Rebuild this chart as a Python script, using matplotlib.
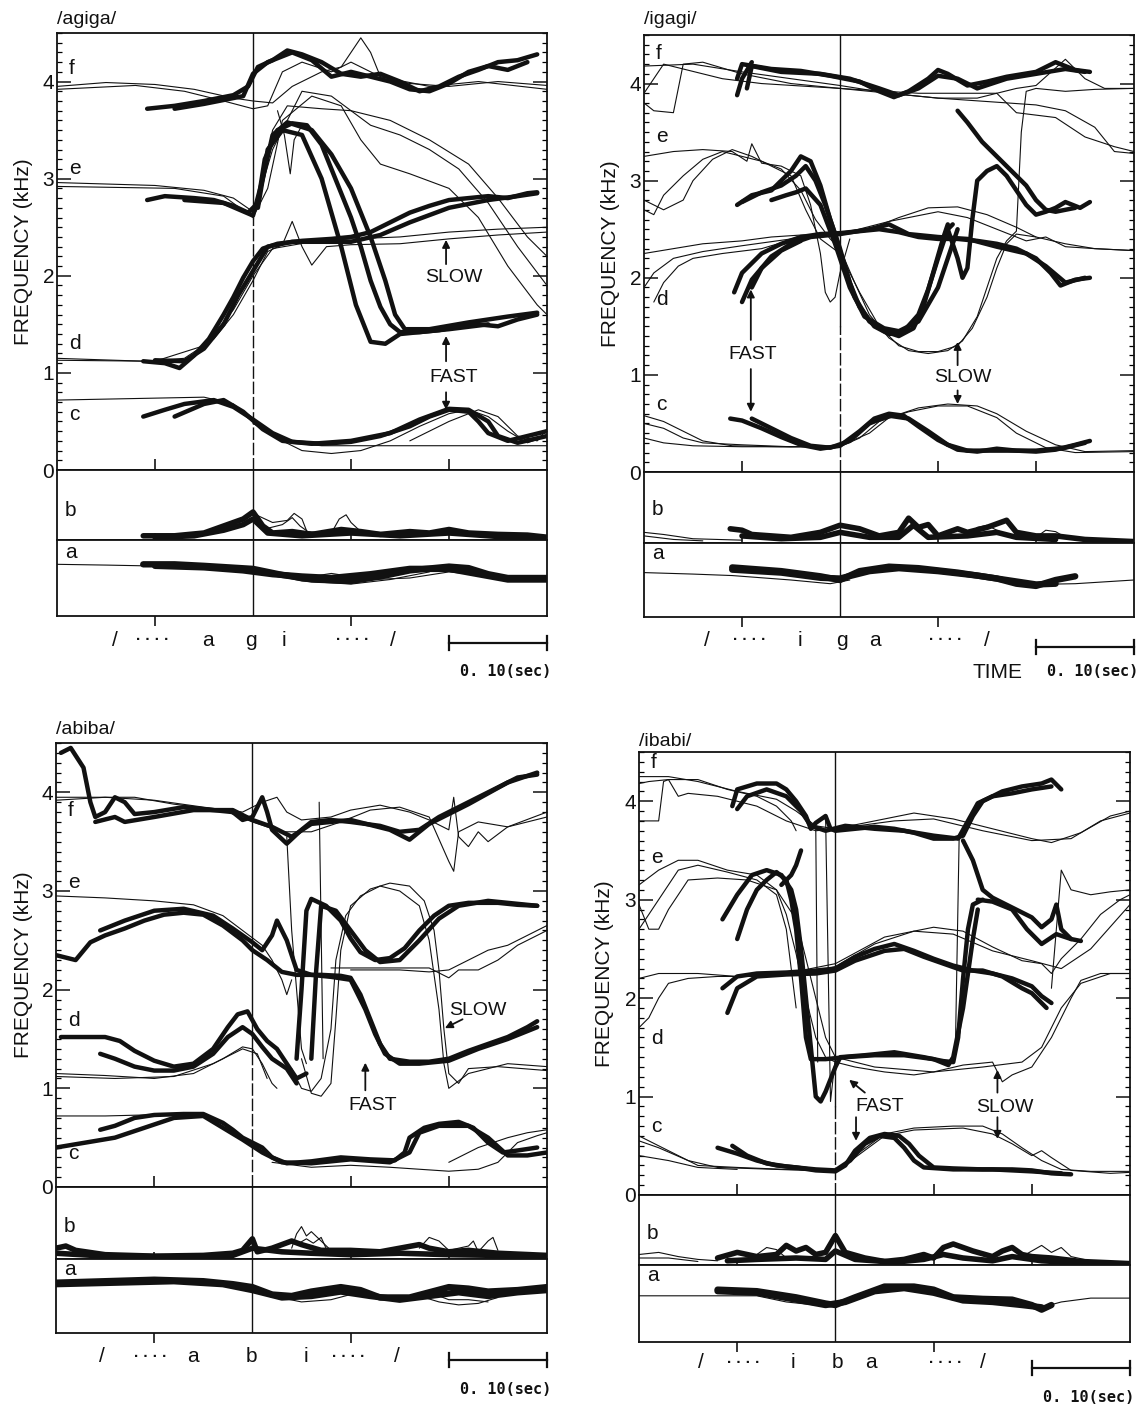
#!/usr/bin/env python3
"""Formant trajectories of /agiga/, /igagi/, /abiba/, /ibabi/ (fast vs slow rate)."""
import matplotlib

matplotlib.use("Agg")
import matplotlib.pyplot as plt
import matplotlib.transforms as mtransforms
from matplotlib.lines import Line2D
from matplotlib.ticker import FixedLocator, MultipleLocator, NullLocator

W, H, DPI = 1139, 1406, 100
INK = "#111111"
plt.rcParams["font.family"] = ["Liberation Sans", "DejaVu Sans"]

# ---------- data: traces as (time s, frequency kHz) ----------
# /agiga/
AGIGA_FAST = [
    [(0.092, 3.72), (0.12, 3.75), (0.15, 3.80), (0.18, 3.86), (0.195, 3.95), (0.205, 4.15), (0.22, 4.22),
     (0.235, 4.32), (0.25, 4.28), (0.27, 4.20), (0.29, 4.08), (0.31, 4.05), (0.33, 4.08), (0.35, 4.00),
     (0.37, 3.90), (0.39, 3.95), (0.41, 4.05), (0.43, 4.12), (0.45, 4.20), (0.47, 4.22), (0.49, 4.28)],
    [(0.12, 3.72), (0.15, 3.77), (0.19, 3.85), (0.20, 4.08), (0.215, 4.20), (0.24, 4.30), (0.26, 4.22),
     (0.28, 4.05), (0.30, 4.10), (0.32, 4.05), (0.34, 4.00), (0.36, 3.92), (0.38, 3.90), (0.40, 3.98),
     (0.42, 4.10), (0.44, 4.16), (0.46, 4.12), (0.48, 4.20)],
    [(0.092, 2.78), (0.11, 2.82), (0.14, 2.80), (0.16, 2.78), (0.18, 2.72), (0.195, 2.65), (0.205, 2.75),
     (0.212, 3.20), (0.225, 3.50), (0.24, 3.57), (0.255, 3.55), (0.27, 3.35), (0.28, 3.10), (0.29, 2.85),
     (0.30, 2.60), (0.31, 2.30), (0.32, 1.95), (0.33, 1.68), (0.34, 1.50), (0.35, 1.42), (0.37, 1.42),
     (0.39, 1.44), (0.41, 1.48), (0.43, 1.50), (0.45, 1.48), (0.47, 1.55), (0.49, 1.60)],
    [(0.13, 2.78), (0.17, 2.75), (0.20, 2.62), (0.21, 3.00), (0.22, 3.45), (0.235, 3.58), (0.26, 3.50),
     (0.28, 3.25), (0.30, 2.90), (0.32, 2.40), (0.335, 1.95), (0.345, 1.60), (0.355, 1.45), (0.38, 1.45),
     (0.42, 1.52), (0.46, 1.58), (0.49, 1.62)],
    [(0.205, 2.70), (0.215, 3.30), (0.23, 3.50), (0.25, 3.45), (0.27, 3.00), (0.29, 2.30), (0.305, 1.70),
     (0.32, 1.32), (0.335, 1.30), (0.35, 1.40), (0.40, 1.45), (0.44, 1.50)],
    [(0.088, 1.12), (0.11, 1.10), (0.125, 1.05), (0.14, 1.18), (0.155, 1.35), (0.17, 1.60), (0.18, 1.78),
     (0.19, 1.98), (0.20, 2.15), (0.21, 2.28), (0.225, 2.33), (0.25, 2.36), (0.28, 2.38), (0.30, 2.40),
     (0.32, 2.45), (0.34, 2.55), (0.36, 2.65), (0.38, 2.72), (0.40, 2.78), (0.42, 2.80), (0.44, 2.82),
     (0.46, 2.80), (0.48, 2.85), (0.49, 2.86)],
    [(0.10, 1.13), (0.13, 1.12), (0.15, 1.25), (0.17, 1.50), (0.185, 1.80), (0.20, 2.05), (0.215, 2.30),
     (0.24, 2.35), (0.27, 2.35), (0.30, 2.35), (0.33, 2.42), (0.36, 2.55), (0.40, 2.70), (0.44, 2.78),
     (0.47, 2.82), (0.49, 2.85)],
    [(0.088, 0.55), (0.11, 0.62), (0.13, 0.68), (0.16, 0.72), (0.18, 0.65), (0.20, 0.52), (0.22, 0.38),
     (0.24, 0.29), (0.27, 0.27), (0.30, 0.29), (0.33, 0.35), (0.36, 0.45), (0.38, 0.55), (0.40, 0.62),
     (0.42, 0.60), (0.43, 0.50), (0.44, 0.38), (0.46, 0.30), (0.48, 0.35), (0.50, 0.40)],
    [(0.12, 0.55), (0.15, 0.68), (0.17, 0.72), (0.19, 0.60), (0.21, 0.42), (0.23, 0.30), (0.26, 0.27),
     (0.30, 0.30), (0.34, 0.38), (0.37, 0.52), (0.40, 0.63), (0.42, 0.62), (0.44, 0.50), (0.45, 0.35),
     (0.47, 0.28), (0.50, 0.35)],
]
AGIGA_SLOW = [
    [(0.0, 3.95), (0.05, 3.99), (0.10, 3.97), (0.14, 3.92), (0.18, 3.83), (0.20, 3.80), (0.22, 3.78),
     (0.24, 3.95), (0.27, 4.10), (0.29, 4.15), (0.30, 4.30), (0.31, 4.45), (0.32, 4.30), (0.33, 4.05),
     (0.36, 3.98), (0.40, 3.95), (0.45, 4.00), (0.50, 3.96)],
    [(0.0, 3.92), (0.08, 3.96), (0.13, 3.90), (0.17, 3.80), (0.20, 3.72), (0.215, 3.75), (0.23, 4.10),
     (0.25, 4.20), (0.28, 4.10), (0.30, 4.20), (0.33, 4.05), (0.38, 3.95), (0.43, 4.00), (0.50, 3.92)],
    [(0.0, 2.96), (0.10, 2.93), (0.15, 2.88), (0.18, 2.80), (0.20, 2.66), (0.21, 3.00), (0.22, 3.50),
     (0.235, 3.75), (0.27, 3.72), (0.30, 3.70), (0.32, 3.55), (0.35, 3.45), (0.38, 3.30), (0.41, 3.10),
     (0.44, 2.75), (0.47, 2.30), (0.50, 1.90)],
    [(0.0, 2.92), (0.12, 2.90), (0.17, 2.82), (0.20, 2.60), (0.215, 2.90), (0.23, 3.60), (0.26, 3.85),
     (0.29, 3.75), (0.31, 3.40), (0.33, 3.15), (0.36, 3.05), (0.40, 2.90), (0.43, 2.60), (0.46, 2.10),
     (0.49, 1.70), (0.50, 1.60)],
    [(0.20, 2.62), (0.22, 3.30), (0.25, 3.90), (0.28, 3.85), (0.30, 3.70), (0.34, 3.60), (0.38, 3.40),
     (0.42, 3.15), (0.45, 2.80), (0.48, 2.40), (0.50, 2.20)],
    [(0.225, 3.70), (0.232, 3.45), (0.238, 3.05), (0.242, 3.40), (0.25, 3.55)],
    [(0.0, 1.15), (0.09, 1.12), (0.13, 1.15), (0.16, 1.35), (0.18, 1.60), (0.20, 1.95), (0.215, 2.25),
     (0.23, 2.32), (0.24, 2.56), (0.25, 2.30), (0.26, 2.11), (0.275, 2.30), (0.30, 2.32), (0.35, 2.33),
     (0.40, 2.38), (0.45, 2.42), (0.50, 2.45)],
    [(0.0, 1.13), (0.10, 1.12), (0.15, 1.28), (0.18, 1.65), (0.20, 2.00), (0.22, 2.28), (0.26, 2.35),
     (0.30, 2.38), (0.35, 2.40), (0.40, 2.45), (0.45, 2.48), (0.50, 2.50)],
    [(0.0, 0.72), (0.05, 0.73), (0.10, 0.74), (0.15, 0.75), (0.18, 0.68), (0.20, 0.52), (0.22, 0.38),
     (0.24, 0.28), (0.27, 0.25), (0.30, 0.25), (0.40, 0.25), (0.50, 0.25)],
    [(0.20, 0.48), (0.23, 0.30), (0.25, 0.20), (0.28, 0.17), (0.31, 0.20), (0.34, 0.30), (0.37, 0.45),
     (0.40, 0.58), (0.42, 0.62), (0.44, 0.55), (0.46, 0.40), (0.48, 0.28), (0.50, 0.35)],
    [(0.36, 0.30), (0.40, 0.50), (0.43, 0.62), (0.45, 0.55), (0.47, 0.35), (0.49, 0.30), (0.50, 0.42)],
]
AGIGA_B_FAST = [
    [(0.088, 0.06), (0.12, 0.06), (0.15, 0.10), (0.17, 0.20), (0.19, 0.30), (0.20, 0.40), (0.21, 0.20),
     (0.22, 0.10), (0.24, 0.12), (0.26, 0.08), (0.29, 0.15), (0.31, 0.12), (0.33, 0.08), (0.36, 0.12),
     (0.38, 0.10), (0.40, 0.15), (0.42, 0.10), (0.45, 0.08), (0.48, 0.07), (0.50, 0.04)],
    [(0.10, 0.04), (0.14, 0.06), (0.17, 0.14), (0.19, 0.22), (0.20, 0.30), (0.215, 0.10), (0.25, 0.06),
     (0.30, 0.10), (0.35, 0.06), (0.40, 0.10), (0.45, 0.05), (0.50, 0.03)],
]
AGIGA_B_SLOW = [
    [(0.20, 0.38), (0.22, 0.25), (0.235, 0.28), (0.242, 0.38), (0.25, 0.30), (0.255, 0.12), (0.28, 0.10),
     (0.288, 0.30), (0.295, 0.36), (0.30, 0.25), (0.31, 0.12), (0.35, 0.08)],
    [(0.21, 0.15), (0.23, 0.22), (0.24, 0.32), (0.248, 0.20), (0.26, 0.08)],
]
AGIGA_A_FAST = [
    [(0.088, 0.68), (0.12, 0.68), (0.15, 0.66), (0.20, 0.62), (0.23, 0.54), (0.26, 0.48), (0.30, 0.46),
     (0.33, 0.52), (0.36, 0.60), (0.40, 0.65), (0.42, 0.63), (0.44, 0.55), (0.46, 0.50), (0.50, 0.50)],
    [(0.10, 0.66), (0.15, 0.64), (0.19, 0.60), (0.22, 0.55), (0.25, 0.52), (0.28, 0.50), (0.32, 0.55),
     (0.36, 0.62), (0.40, 0.62), (0.43, 0.55), (0.46, 0.48), (0.50, 0.48)],
]
AGIGA_A_SLOW = [
    [(0.0, 0.68), (0.05, 0.67), (0.09, 0.66), (0.15, 0.66), (0.20, 0.60), (0.25, 0.46), (0.30, 0.42),
     (0.34, 0.48), (0.38, 0.58)],
    [(0.26, 0.52), (0.28, 0.56), (0.32, 0.48), (0.36, 0.50), (0.40, 0.58), (0.45, 0.52), (0.50, 0.46)],
]

# /igagi/
IGAGI_FAST = [
    [(0.095, 4.05), (0.10, 4.20), (0.13, 4.15), (0.16, 4.13), (0.19, 4.08), (0.22, 4.02), (0.24, 3.92),
     (0.255, 3.86), (0.27, 3.92), (0.29, 4.05), (0.30, 4.14), (0.31, 4.10), (0.33, 3.98), (0.35, 4.02),
     (0.37, 4.07), (0.40, 4.12), (0.42, 4.22), (0.44, 4.14), (0.455, 4.12)],
    [(0.105, 3.95), (0.11, 4.18), (0.14, 4.12), (0.18, 4.10), (0.21, 4.05), (0.24, 3.95), (0.26, 3.88),
     (0.28, 3.95), (0.30, 4.08), (0.32, 4.05), (0.34, 3.95), (0.37, 4.05), (0.40, 4.10), (0.43, 4.15),
     (0.45, 4.12)],
    [(0.095, 3.88), (0.10, 4.05), (0.11, 4.22)],
    [(0.095, 2.75), (0.11, 2.85), (0.13, 2.90), (0.15, 3.10), (0.16, 3.25), (0.17, 3.20), (0.18, 2.95),
     (0.19, 2.60), (0.20, 2.30), (0.21, 1.95), (0.22, 1.70), (0.235, 1.50), (0.25, 1.42), (0.265, 1.45),
     (0.28, 1.62), (0.29, 1.88), (0.30, 2.20), (0.31, 2.50), (0.315, 2.55)],
    [(0.10, 2.78), (0.12, 2.88), (0.14, 2.95), (0.155, 3.05), (0.165, 3.15), (0.175, 3.00), (0.185, 2.75),
     (0.195, 2.45), (0.205, 2.10), (0.215, 1.80), (0.23, 1.55), (0.245, 1.45), (0.26, 1.40), (0.275, 1.48),
     (0.285, 1.70), (0.295, 2.05), (0.305, 2.40), (0.31, 2.55)],
    [(0.13, 2.80), (0.145, 2.85), (0.155, 2.88), (0.165, 2.92), (0.18, 2.75), (0.195, 2.35), (0.21, 1.90),
     (0.225, 1.60), (0.245, 1.48), (0.26, 1.45), (0.28, 1.55), (0.30, 1.90), (0.315, 2.35), (0.32, 2.50)],
    [(0.31, 2.50), (0.32, 2.20), (0.325, 2.00), (0.33, 2.10), (0.335, 2.60), (0.34, 3.00), (0.35, 3.10),
     (0.36, 3.15), (0.37, 3.05), (0.38, 2.90), (0.39, 2.75), (0.40, 2.65), (0.41, 2.68), (0.42, 2.72),
     (0.43, 2.78), (0.445, 2.72), (0.455, 2.78)],
    [(0.32, 3.72), (0.33, 3.60), (0.345, 3.40), (0.36, 3.25), (0.375, 3.10), (0.39, 2.95), (0.40, 2.80),
     (0.41, 2.70), (0.42, 2.68), (0.44, 2.72)],
    [(0.092, 1.85), (0.10, 2.05), (0.12, 2.25), (0.14, 2.35), (0.16, 2.42), (0.18, 2.45), (0.20, 2.46),
     (0.22, 2.48), (0.24, 2.50), (0.26, 2.47), (0.28, 2.42), (0.30, 2.40), (0.32, 2.40), (0.34, 2.38),
     (0.36, 2.35), (0.38, 2.30), (0.40, 2.20), (0.415, 2.05), (0.425, 1.92), (0.44, 1.98), (0.455, 2.00)],
    [(0.10, 1.75), (0.11, 1.98), (0.13, 2.22), (0.15, 2.35), (0.17, 2.42), (0.20, 2.45), (0.23, 2.50),
     (0.25, 2.55), (0.27, 2.45), (0.30, 2.42), (0.33, 2.40), (0.36, 2.32), (0.39, 2.25), (0.41, 2.12),
     (0.43, 1.95), (0.45, 2.00)],
    [(0.11, 1.90), (0.12, 2.10), (0.14, 2.28), (0.16, 2.38)],
    [(0.088, 0.55), (0.10, 0.53), (0.12, 0.45), (0.14, 0.36), (0.16, 0.28), (0.18, 0.24), (0.20, 0.27),
     (0.22, 0.42), (0.235, 0.55), (0.25, 0.60), (0.265, 0.58), (0.28, 0.47), (0.30, 0.33), (0.32, 0.23),
     (0.34, 0.21), (0.36, 0.24), (0.38, 0.22), (0.40, 0.21), (0.42, 0.23), (0.44, 0.28), (0.455, 0.32)],
    [(0.11, 0.55), (0.13, 0.45), (0.15, 0.35), (0.17, 0.27), (0.19, 0.25), (0.21, 0.32), (0.23, 0.50),
     (0.25, 0.58), (0.27, 0.55), (0.29, 0.42), (0.31, 0.28), (0.33, 0.22), (0.36, 0.22), (0.40, 0.22),
     (0.43, 0.25), (0.45, 0.30)],
]
IGAGI_SLOW = [
    [(0.0, 4.18), (0.05, 4.20), (0.10, 4.12), (0.15, 4.05), (0.20, 3.98), (0.25, 3.90), (0.30, 3.85),
     (0.34, 3.85), (0.38, 3.95), (0.40, 3.98), (0.43, 4.25), (0.45, 4.05), (0.47, 3.95), (0.50, 3.95)],
    [(0.0, 3.80), (0.01, 3.72), (0.03, 3.70), (0.04, 4.20), (0.06, 4.22), (0.10, 4.10), (0.15, 4.00),
     (0.20, 3.95), (0.30, 3.85), (0.40, 3.78), (0.43, 3.72), (0.46, 3.55), (0.48, 3.30), (0.50, 3.28)],
    [(0.0, 3.90), (0.02, 4.20), (0.04, 4.15), (0.08, 4.05), (0.12, 4.00), (0.20, 3.95), (0.28, 3.90),
     (0.34, 3.90), (0.36, 3.90), (0.38, 3.70), (0.42, 3.65), (0.45, 3.45), (0.48, 3.35), (0.50, 3.30)],
    [(0.0, 3.25), (0.03, 3.30), (0.06, 3.32), (0.09, 3.30), (0.105, 3.20), (0.11, 3.38), (0.12, 3.18),
     (0.14, 3.15), (0.16, 3.05), (0.17, 2.75), (0.18, 2.25), (0.185, 1.85), (0.19, 1.75), (0.195, 1.80),
     (0.20, 2.05), (0.21, 2.40)],
    [(0.0, 2.70), (0.01, 2.65), (0.02, 2.85), (0.04, 3.05), (0.06, 3.22), (0.08, 3.30), (0.10, 3.25),
     (0.12, 3.20), (0.14, 3.12), (0.16, 2.90), (0.175, 2.60), (0.19, 2.40), (0.20, 2.30), (0.215, 1.95),
     (0.23, 1.62), (0.25, 1.38), (0.27, 1.25), (0.29, 1.22), (0.31, 1.25), (0.325, 1.35), (0.34, 1.60),
     (0.35, 1.90), (0.36, 2.20), (0.37, 2.38), (0.38, 2.48), (0.385, 3.50), (0.39, 3.92), (0.40, 3.95),
     (0.43, 3.92), (0.46, 3.94), (0.50, 3.95)],
    [(0.0, 2.80), (0.02, 2.70), (0.04, 2.80), (0.05, 3.00), (0.07, 3.22), (0.09, 3.32), (0.11, 3.25),
     (0.13, 3.15), (0.15, 3.05), (0.165, 2.70), (0.18, 2.40), (0.20, 2.25), (0.22, 1.85), (0.24, 1.50),
     (0.26, 1.30), (0.28, 1.24), (0.30, 1.24), (0.32, 1.30), (0.335, 1.48), (0.35, 1.80), (0.36, 2.10),
     (0.37, 2.35), (0.38, 2.45), (0.40, 2.42)],
    [(0.0, 2.25), (0.03, 2.30), (0.06, 2.35), (0.10, 2.38), (0.13, 2.42), (0.16, 2.44), (0.20, 2.45),
     (0.23, 2.50), (0.26, 2.62), (0.29, 2.72), (0.32, 2.73), (0.35, 2.65), (0.38, 2.52), (0.40, 2.42),
     (0.43, 2.35), (0.46, 2.30), (0.50, 2.28)],
    [(0.0, 1.90), (0.01, 2.05), (0.03, 2.20), (0.06, 2.27), (0.10, 2.33), (0.15, 2.40), (0.20, 2.45),
     (0.25, 2.58), (0.30, 2.68), (0.33, 2.62), (0.36, 2.50), (0.39, 2.38), (0.41, 2.42), (0.43, 2.32),
     (0.46, 2.30), (0.50, 2.28)],
    [(0.01, 1.75), (0.02, 1.95), (0.035, 2.12), (0.05, 2.20), (0.08, 2.25), (0.12, 2.30), (0.16, 2.42)],
    [(0.0, 0.50), (0.02, 0.45), (0.04, 0.35), (0.06, 0.30), (0.10, 0.28), (0.15, 0.26), (0.20, 0.27),
     (0.23, 0.40), (0.25, 0.56), (0.28, 0.66), (0.31, 0.70), (0.34, 0.68), (0.36, 0.60), (0.39, 0.42),
     (0.42, 0.28), (0.45, 0.21), (0.50, 0.22)],
    [(0.0, 0.58), (0.02, 0.52), (0.04, 0.42), (0.06, 0.32), (0.09, 0.27), (0.14, 0.26), (0.20, 0.26),
     (0.22, 0.35), (0.24, 0.52), (0.27, 0.62), (0.30, 0.68), (0.33, 0.68), (0.36, 0.56), (0.38, 0.40),
     (0.41, 0.25), (0.44, 0.20), (0.50, 0.21)],
    [(0.0, 0.35), (0.02, 0.30), (0.05, 0.27), (0.10, 0.26), (0.15, 0.26), (0.20, 0.26)],
]
IGAGI_B_FAST = [
    [(0.088, 0.20), (0.10, 0.18), (0.11, 0.12), (0.13, 0.10), (0.15, 0.08), (0.18, 0.15), (0.20, 0.25),
     (0.22, 0.20), (0.24, 0.10), (0.26, 0.15), (0.27, 0.35), (0.28, 0.22), (0.29, 0.26), (0.30, 0.10),
     (0.32, 0.20), (0.33, 0.15), (0.35, 0.22), (0.37, 0.32), (0.38, 0.15), (0.40, 0.10), (0.42, 0.10),
     (0.45, 0.05), (0.50, 0.02)],
    [(0.10, 0.10), (0.14, 0.06), (0.18, 0.08), (0.20, 0.15), (0.23, 0.08), (0.26, 0.08), (0.275, 0.25),
     (0.29, 0.08), (0.33, 0.10), (0.36, 0.15), (0.38, 0.08), (0.42, 0.05)],
]
IGAGI_B_SLOW = [
    [(0.0, 0.15), (0.02, 0.12), (0.05, 0.06), (0.10, 0.04)],
    [(0.0, 0.10), (0.03, 0.05), (0.06, 0.03)],
    [(0.33, 0.10), (0.34, 0.22), (0.35, 0.25), (0.36, 0.18), (0.37, 0.12)],
    [(0.40, 0.08), (0.41, 0.18), (0.42, 0.16), (0.43, 0.08)],
]
IGAGI_A_FAST = [
    [(0.09, 0.67), (0.14, 0.62), (0.18, 0.55), (0.20, 0.50), (0.22, 0.62), (0.25, 0.68), (0.28, 0.66),
     (0.32, 0.60), (0.36, 0.52), (0.38, 0.45), (0.40, 0.42), (0.42, 0.50), (0.44, 0.55)],
    [(0.09, 0.64), (0.14, 0.60), (0.18, 0.53), (0.20, 0.52), (0.23, 0.62), (0.26, 0.66), (0.30, 0.62),
     (0.34, 0.56), (0.37, 0.50), (0.40, 0.44), (0.42, 0.45)],
]
IGAGI_A_SLOW = [
    [(0.0, 0.60), (0.05, 0.58), (0.09, 0.56), (0.15, 0.50), (0.19, 0.45), (0.21, 0.50)],
    [(0.40, 0.44), (0.44, 0.45), (0.50, 0.50)],
]

# /abiba/
ABIBA_FAST = [
    [(0.005, 4.40), (0.015, 4.45), (0.028, 4.25), (0.035, 3.90), (0.04, 3.75), (0.05, 3.80), (0.06, 3.95),
     (0.07, 3.90), (0.08, 3.78), (0.10, 3.80), (0.13, 3.85), (0.16, 3.82), (0.18, 3.80), (0.19, 3.72),
     (0.20, 3.75), (0.21, 3.95), (0.215, 3.80), (0.22, 3.62), (0.235, 3.48), (0.25, 3.62), (0.26, 3.70),
     (0.28, 3.72), (0.30, 3.70), (0.33, 3.66), (0.35, 3.60), (0.37, 3.62), (0.39, 3.75), (0.41, 3.85),
     (0.43, 3.95), (0.45, 4.05), (0.47, 4.15), (0.49, 4.18)],
    [(0.04, 3.70), (0.06, 3.75), (0.07, 3.70), (0.10, 3.75), (0.14, 3.82), (0.18, 3.82), (0.20, 3.72),
     (0.22, 3.65), (0.24, 3.55), (0.26, 3.68), (0.30, 3.72), (0.34, 3.62), (0.36, 3.52), (0.38, 3.68),
     (0.42, 3.88), (0.46, 4.10), (0.49, 4.20)],
    [(0.0, 2.35), (0.02, 2.30), (0.035, 2.48), (0.05, 2.55), (0.07, 2.62), (0.09, 2.70), (0.11, 2.76),
     (0.13, 2.78), (0.15, 2.76), (0.17, 2.65), (0.19, 2.50), (0.20, 2.40), (0.215, 2.30), (0.23, 2.18),
     (0.245, 2.15), (0.27, 2.15), (0.29, 2.14), (0.30, 2.12), (0.31, 1.95), (0.32, 1.70), (0.33, 1.45),
     (0.34, 1.30), (0.36, 1.27), (0.38, 1.27), (0.40, 1.30), (0.42, 1.38), (0.44, 1.45), (0.46, 1.52),
     (0.48, 1.62), (0.49, 1.68)],
    [(0.045, 2.60), (0.07, 2.70), (0.10, 2.80), (0.13, 2.82), (0.16, 2.75), (0.18, 2.62), (0.20, 2.48),
     (0.21, 2.40), (0.22, 2.55), (0.225, 2.70), (0.235, 2.50), (0.245, 2.20), (0.26, 2.15), (0.28, 2.13),
     (0.30, 2.10), (0.315, 1.80), (0.325, 1.55), (0.335, 1.35), (0.35, 1.25), (0.37, 1.25), (0.40, 1.28),
     (0.43, 1.40), (0.46, 1.50), (0.49, 1.62)],
    [(0.245, 1.30), (0.25, 2.00), (0.255, 2.80), (0.26, 2.92), (0.275, 2.85), (0.29, 2.70), (0.30, 2.52),
     (0.31, 2.38), (0.325, 2.30), (0.34, 2.32), (0.355, 2.42), (0.37, 2.60), (0.385, 2.75), (0.40, 2.85),
     (0.42, 2.88), (0.45, 2.88), (0.47, 2.86), (0.49, 2.85)],
    [(0.26, 1.30), (0.265, 2.20), (0.27, 2.85), (0.285, 2.80), (0.30, 2.60), (0.315, 2.40), (0.33, 2.28),
     (0.35, 2.30), (0.37, 2.50), (0.39, 2.72), (0.41, 2.85), (0.44, 2.90), (0.49, 2.85)],
    [(0.005, 1.52), (0.05, 1.52), (0.065, 1.48), (0.08, 1.38), (0.10, 1.28), (0.12, 1.22), (0.14, 1.25),
     (0.16, 1.40), (0.175, 1.62), (0.185, 1.75), (0.195, 1.78), (0.205, 1.60), (0.215, 1.48), (0.225, 1.40),
     (0.235, 1.25), (0.245, 1.10), (0.255, 1.15)],
    [(0.045, 1.35), (0.06, 1.30), (0.08, 1.22), (0.10, 1.18), (0.12, 1.18), (0.14, 1.22), (0.16, 1.35),
     (0.175, 1.52), (0.19, 1.62), (0.20, 1.55), (0.21, 1.42), (0.22, 1.30), (0.235, 1.20), (0.245, 1.05)],
    [(0.045, 0.58), (0.06, 0.62), (0.08, 0.70), (0.10, 0.73), (0.13, 0.74), (0.15, 0.74), (0.17, 0.65),
     (0.18, 0.58), (0.19, 0.50), (0.20, 0.45), (0.21, 0.40), (0.22, 0.30), (0.235, 0.24), (0.26, 0.26),
     (0.29, 0.30), (0.32, 0.28), (0.345, 0.27), (0.355, 0.35), (0.36, 0.50), (0.375, 0.60), (0.39, 0.64),
     (0.41, 0.66), (0.425, 0.60), (0.44, 0.45), (0.455, 0.35), (0.47, 0.37), (0.49, 0.40)],
    [(0.0, 0.40), (0.03, 0.45), (0.06, 0.50), (0.09, 0.60), (0.12, 0.70), (0.15, 0.72), (0.17, 0.60),
     (0.19, 0.48), (0.21, 0.35), (0.23, 0.25), (0.26, 0.24), (0.30, 0.28), (0.34, 0.25), (0.36, 0.35),
     (0.37, 0.55), (0.39, 0.62), (0.42, 0.62), (0.44, 0.50), (0.46, 0.32), (0.48, 0.32), (0.50, 0.35)],
]
ABIBA_SLOW = [
    [(0.0, 3.92), (0.05, 3.95), (0.10, 3.92), (0.15, 3.85), (0.19, 3.80), (0.21, 3.90), (0.225, 3.95),
     (0.235, 3.80), (0.25, 3.72), (0.28, 3.75), (0.30, 3.82), (0.33, 3.87), (0.36, 3.80), (0.38, 3.72),
     (0.40, 3.62), (0.405, 3.95), (0.41, 3.55), (0.42, 3.45), (0.43, 3.60), (0.44, 3.50), (0.46, 3.65),
     (0.50, 3.75)],
    [(0.0, 3.95), (0.08, 3.95), (0.12, 3.88), (0.17, 3.82), (0.20, 3.70), (0.23, 3.60), (0.26, 3.60),
     (0.29, 3.70), (0.32, 3.82), (0.35, 3.85), (0.38, 3.75), (0.40, 3.30), (0.405, 3.20), (0.41, 3.60),
     (0.43, 3.70), (0.46, 3.65), (0.50, 3.80)],
    [(0.0, 2.95), (0.05, 2.93), (0.10, 2.90), (0.14, 2.86), (0.17, 2.75), (0.19, 2.60), (0.21, 2.45),
     (0.22, 2.30), (0.23, 2.10), (0.235, 1.95), (0.24, 2.10)],
    [(0.30, 2.20), (0.35, 2.20), (0.38, 2.18), (0.40, 2.20), (0.42, 2.30), (0.44, 2.40), (0.46, 2.45),
     (0.48, 2.55), (0.50, 2.65)],
    [(0.28, 2.22), (0.33, 2.22), (0.38, 2.22), (0.40, 2.12), (0.41, 2.20), (0.43, 2.20), (0.45, 2.30),
     (0.47, 2.45), (0.50, 2.60)],
    [(0.25, 1.30), (0.26, 0.95), (0.27, 0.92), (0.28, 1.05), (0.285, 1.70), (0.29, 2.40), (0.30, 2.85),
     (0.32, 3.02), (0.34, 3.08), (0.36, 3.05), (0.375, 2.90), (0.385, 2.60), (0.39, 2.20), (0.395, 1.60),
     (0.40, 1.15), (0.41, 1.05), (0.42, 1.20), (0.45, 1.22), (0.50, 1.18)],
    [(0.24, 1.20), (0.25, 1.00), (0.26, 0.97), (0.27, 1.10), (0.28, 1.60), (0.285, 2.30), (0.295, 2.75),
     (0.31, 2.95), (0.33, 3.05), (0.35, 3.00), (0.37, 2.85), (0.38, 2.50), (0.39, 1.80), (0.395, 1.25),
     (0.40, 1.00), (0.42, 1.15), (0.46, 1.25), (0.50, 1.22)],
    [(0.235, 3.55), (0.24, 2.60), (0.25, 1.40), (0.255, 1.25)],
    [(0.268, 3.90), (0.27, 2.60), (0.272, 1.30)],
    [(0.0, 1.15), (0.05, 1.13), (0.10, 1.10), (0.14, 1.15), (0.17, 1.30), (0.19, 1.42), (0.20, 1.40),
     (0.21, 1.25), (0.22, 1.05), (0.225, 1.00)],
    [(0.0, 1.12), (0.06, 1.10), (0.12, 1.12), (0.16, 1.25), (0.19, 1.40), (0.205, 1.35), (0.215, 1.10)],
    [(0.0, 0.72), (0.05, 0.72), (0.09, 0.73), (0.12, 0.74)],
    [(0.22, 0.25), (0.26, 0.20), (0.30, 0.22), (0.34, 0.20), (0.37, 0.18), (0.40, 0.16), (0.43, 0.18),
     (0.45, 0.25), (0.47, 0.45), (0.49, 0.52), (0.50, 0.55)],
    [(0.40, 0.25), (0.43, 0.40), (0.46, 0.50), (0.48, 0.55), (0.50, 0.58)],
]
ABIBA_B_FAST = [
    [(0.0, 0.15), (0.01, 0.18), (0.02, 0.12), (0.05, 0.06), (0.10, 0.04), (0.15, 0.05), (0.18, 0.08),
     (0.19, 0.12), (0.20, 0.28), (0.205, 0.10), (0.22, 0.15), (0.24, 0.25), (0.25, 0.20), (0.27, 0.12),
     (0.30, 0.12), (0.33, 0.10), (0.35, 0.15), (0.37, 0.20), (0.38, 0.15), (0.40, 0.10), (0.42, 0.12),
     (0.45, 0.08), (0.50, 0.05)],
    [(0.0, 0.08), (0.05, 0.04), (0.12, 0.03), (0.18, 0.05), (0.20, 0.15), (0.23, 0.10), (0.26, 0.08),
     (0.30, 0.06), (0.35, 0.08), (0.40, 0.06), (0.45, 0.05), (0.50, 0.03)],
]
ABIBA_B_SLOW = [
    [(0.24, 0.15), (0.245, 0.35), (0.25, 0.45), (0.255, 0.32), (0.26, 0.38), (0.27, 0.25), (0.28, 0.12)],
    [(0.245, 0.20), (0.255, 0.28), (0.262, 0.22), (0.27, 0.30), (0.275, 0.15)],
    [(0.37, 0.15), (0.38, 0.30), (0.39, 0.25), (0.40, 0.12), (0.42, 0.18), (0.425, 0.25), (0.43, 0.10),
     (0.44, 0.25), (0.445, 0.30), (0.45, 0.12)],
]
ABIBA_A_FAST = [
    [(0.0, 0.68), (0.05, 0.70), (0.10, 0.72), (0.15, 0.70), (0.18, 0.66), (0.20, 0.62), (0.22, 0.52),
     (0.24, 0.50), (0.26, 0.56), (0.29, 0.62), (0.31, 0.58), (0.33, 0.48), (0.36, 0.48), (0.38, 0.55),
     (0.40, 0.62), (0.42, 0.60), (0.44, 0.56), (0.47, 0.58), (0.50, 0.62)],
    [(0.0, 0.66), (0.06, 0.68), (0.12, 0.70), (0.17, 0.66), (0.20, 0.58), (0.23, 0.48), (0.26, 0.50),
     (0.29, 0.56), (0.32, 0.50), (0.35, 0.45), (0.38, 0.50), (0.41, 0.55), (0.44, 0.50), (0.47, 0.55),
     (0.50, 0.58)],
]
ABIBA_A_SLOW = [
    [(0.22, 0.50), (0.25, 0.42), (0.28, 0.45), (0.30, 0.52)],
    [(0.37, 0.50), (0.39, 0.42), (0.41, 0.38), (0.43, 0.40), (0.45, 0.48)],
    [(0.38, 0.55), (0.40, 0.45), (0.42, 0.45), (0.44, 0.42)],
]

# /ibabi/
IBABI_FAST = [
    [(0.095, 3.95), (0.10, 4.12), (0.12, 4.18), (0.14, 4.18), (0.15, 4.12), (0.16, 4.00), (0.17, 3.85),
     (0.175, 3.72), (0.18, 3.78), (0.19, 3.85), (0.195, 3.72), (0.20, 3.70), (0.22, 3.72), (0.24, 3.74),
     (0.26, 3.72), (0.28, 3.68), (0.30, 3.62), (0.32, 3.62), (0.33, 3.65), (0.34, 3.85), (0.35, 4.00),
     (0.37, 4.10), (0.39, 4.15), (0.41, 4.18), (0.42, 4.22), (0.43, 4.12)],
    [(0.10, 3.92), (0.11, 4.05), (0.13, 4.12), (0.15, 4.05), (0.165, 3.90), (0.175, 3.75), (0.19, 3.70),
     (0.21, 3.75), (0.24, 3.72), (0.27, 3.70), (0.30, 3.65), (0.325, 3.62), (0.335, 3.80), (0.345, 3.98),
     (0.36, 4.05), (0.38, 4.08), (0.40, 4.12), (0.42, 4.15)],
    [(0.085, 2.80), (0.10, 3.05), (0.115, 3.25), (0.13, 3.30), (0.145, 3.25), (0.155, 3.10), (0.16, 2.90),
     (0.165, 2.50), (0.17, 2.00), (0.175, 1.50), (0.18, 1.00), (0.185, 0.95), (0.19, 1.05), (0.20, 1.30),
     (0.205, 1.40), (0.23, 1.42), (0.26, 1.45), (0.29, 1.40), (0.31, 1.36), (0.32, 1.35), (0.325, 1.60),
     (0.33, 2.20), (0.335, 2.70), (0.34, 2.95), (0.35, 3.00)],
    [(0.10, 2.60), (0.11, 2.90), (0.12, 3.10), (0.13, 3.20), (0.14, 3.28), (0.15, 3.20), (0.155, 3.00),
     (0.16, 2.70), (0.165, 2.20), (0.17, 1.60), (0.175, 1.38), (0.19, 1.38), (0.21, 1.40), (0.24, 1.42),
     (0.27, 1.42), (0.30, 1.38), (0.315, 1.32), (0.32, 1.40), (0.33, 1.90), (0.34, 2.60), (0.345, 2.90)],
    [(0.145, 3.15), (0.155, 3.25), (0.16, 3.35), (0.165, 3.50)],
    [(0.33, 3.60), (0.34, 3.40), (0.35, 3.10), (0.36, 3.02), (0.38, 2.92), (0.40, 2.82), (0.41, 2.72),
     (0.42, 2.80), (0.425, 2.95), (0.43, 2.70), (0.44, 2.60), (0.45, 2.58)],
    [(0.345, 3.00), (0.36, 2.98), (0.38, 2.90), (0.395, 2.70), (0.41, 2.55), (0.425, 2.65), (0.44, 2.60)],
    [(0.085, 2.10), (0.10, 2.22), (0.12, 2.25), (0.15, 2.26), (0.18, 2.28), (0.20, 2.30), (0.22, 2.42),
     (0.24, 2.50), (0.26, 2.55), (0.28, 2.48), (0.30, 2.40), (0.32, 2.33), (0.34, 2.28), (0.36, 2.25),
     (0.38, 2.20), (0.40, 2.12), (0.41, 2.02), (0.42, 1.95)],
    [(0.09, 1.85), (0.10, 2.10), (0.12, 2.22), (0.15, 2.24), (0.18, 2.25), (0.20, 2.28), (0.22, 2.38),
     (0.25, 2.48), (0.27, 2.50), (0.29, 2.42), (0.31, 2.35), (0.33, 2.28), (0.35, 2.28), (0.37, 2.22),
     (0.39, 2.10), (0.40, 2.05), (0.415, 1.90)],
    [(0.08, 0.48), (0.10, 0.42), (0.12, 0.35), (0.14, 0.30), (0.16, 0.28), (0.18, 0.25), (0.20, 0.24),
     (0.21, 0.30), (0.22, 0.45), (0.235, 0.58), (0.25, 0.62), (0.265, 0.60), (0.275, 0.52), (0.285, 0.40),
     (0.30, 0.28), (0.32, 0.27), (0.35, 0.26), (0.38, 0.26), (0.40, 0.25), (0.42, 0.22), (0.44, 0.21)],
    [(0.095, 0.50), (0.11, 0.40), (0.13, 0.32), (0.15, 0.29), (0.18, 0.26), (0.20, 0.25), (0.215, 0.35),
     (0.23, 0.52), (0.245, 0.60), (0.26, 0.58), (0.27, 0.48), (0.28, 0.35), (0.29, 0.28), (0.32, 0.26),
     (0.36, 0.26), (0.40, 0.24), (0.43, 0.22)],
]
IBABI_SLOW = [
    [(0.0, 4.25), (0.03, 4.25), (0.06, 4.20), (0.10, 4.10), (0.14, 4.02), (0.16, 3.90), (0.18, 3.75),
     (0.20, 3.72), (0.25, 3.82), (0.28, 3.88), (0.32, 3.82), (0.36, 3.72), (0.40, 3.62), (0.42, 3.58),
     (0.45, 3.68), (0.48, 3.85), (0.50, 3.90)],
    [(0.0, 3.80), (0.02, 3.80), (0.025, 4.20), (0.03, 4.22), (0.04, 4.05), (0.05, 4.08), (0.08, 4.05),
     (0.12, 3.95), (0.15, 3.80), (0.18, 3.70), (0.20, 3.72), (0.26, 3.80), (0.30, 3.82), (0.35, 3.70),
     (0.40, 3.60), (0.44, 3.62), (0.47, 3.80), (0.50, 3.88)],
    [(0.0, 4.18), (0.01, 4.20), (0.03, 4.22), (0.06, 4.22), (0.09, 4.12), (0.12, 4.05), (0.14, 3.95),
     (0.155, 3.80), (0.16, 3.70)],
    [(0.0, 3.15), (0.02, 3.30), (0.04, 3.40), (0.06, 3.40), (0.09, 3.30), (0.12, 3.25), (0.14, 3.10),
     (0.15, 2.85), (0.16, 2.45), (0.17, 2.00), (0.18, 1.60), (0.19, 1.40), (0.20, 1.35), (0.22, 1.30),
     (0.25, 1.25), (0.28, 1.22), (0.30, 1.25), (0.33, 1.32), (0.36, 1.35), (0.37, 1.15), (0.38, 1.22),
     (0.40, 1.30), (0.42, 1.60), (0.44, 2.00), (0.45, 2.18), (0.47, 2.25), (0.50, 2.25)],
    [(0.0, 2.70), (0.02, 3.00), (0.04, 3.30), (0.06, 3.35), (0.09, 3.28), (0.12, 3.20), (0.14, 3.05),
     (0.15, 2.70), (0.155, 2.30), (0.16, 1.90)],
    [(0.0, 2.95), (0.01, 2.70), (0.02, 2.70), (0.03, 2.90), (0.05, 3.20), (0.08, 3.22), (0.11, 3.20),
     (0.14, 3.10), (0.16, 2.80), (0.175, 2.20), (0.19, 1.60), (0.20, 1.40), (0.24, 1.30), (0.30, 1.25),
     (0.35, 1.30), (0.39, 1.35), (0.41, 1.50), (0.43, 1.90), (0.45, 2.15), (0.48, 2.25), (0.50, 2.25)],
    [(0.42, 2.10), (0.43, 3.30), (0.44, 3.10), (0.46, 3.05), (0.48, 3.08), (0.50, 3.10)],
    [(0.0, 2.20), (0.02, 2.25), (0.06, 2.25), (0.10, 2.22), (0.15, 2.25), (0.20, 2.35), (0.25, 2.62),
     (0.30, 2.72), (0.33, 2.68), (0.36, 2.52), (0.39, 2.38), (0.41, 2.35), (0.42, 2.25), (0.43, 2.40),
     (0.45, 2.60), (0.47, 2.85), (0.49, 3.00), (0.50, 3.05)],
    [(0.0, 1.70), (0.01, 1.80), (0.02, 2.00), (0.03, 2.15), (0.05, 2.20), (0.08, 2.22), (0.12, 2.22),
     (0.17, 2.25), (0.20, 2.32), (0.24, 2.55), (0.28, 2.68), (0.32, 2.65), (0.36, 2.48), (0.40, 2.38),
     (0.43, 2.30), (0.46, 2.50), (0.50, 2.95)],
    [(0.326, 3.62), (0.322, 1.38)],
    [(0.18, 3.75), (0.182, 1.35)],
    [(0.19, 3.85), (0.195, 0.95), (0.20, 1.40)],
    [(0.0, 0.60), (0.03, 0.45), (0.06, 0.30), (0.10, 0.28), (0.15, 0.26), (0.20, 0.25), (0.22, 0.40),
     (0.25, 0.62), (0.28, 0.68), (0.32, 0.70), (0.35, 0.70), (0.37, 0.62), (0.39, 0.48), (0.41, 0.35),
     (0.43, 0.26), (0.46, 0.24), (0.50, 0.24)],
    [(0.0, 0.55), (0.02, 0.48), (0.05, 0.35), (0.08, 0.28), (0.14, 0.26), (0.20, 0.24), (0.22, 0.38),
     (0.25, 0.60), (0.28, 0.66), (0.33, 0.68), (0.36, 0.62), (0.38, 0.52), (0.40, 0.40), (0.41, 0.45),
     (0.42, 0.38), (0.44, 0.25), (0.48, 0.22), (0.50, 0.23)],
    [(0.0, 0.40), (0.03, 0.35), (0.06, 0.28), (0.10, 0.26)],
]
IBABI_B_FAST = [
    [(0.08, 0.10), (0.10, 0.18), (0.12, 0.12), (0.14, 0.15), (0.15, 0.28), (0.16, 0.20), (0.17, 0.25),
     (0.18, 0.15), (0.19, 0.18), (0.20, 0.42), (0.21, 0.18), (0.23, 0.10), (0.25, 0.05), (0.27, 0.08),
     (0.29, 0.15), (0.30, 0.10), (0.31, 0.25), (0.32, 0.30), (0.34, 0.20), (0.36, 0.12), (0.37, 0.20),
     (0.38, 0.25), (0.39, 0.15), (0.40, 0.12), (0.42, 0.10), (0.45, 0.05), (0.50, 0.02)],
    [(0.09, 0.06), (0.12, 0.08), (0.16, 0.10), (0.19, 0.08), (0.20, 0.20), (0.22, 0.08), (0.26, 0.04),
     (0.29, 0.08), (0.31, 0.15), (0.33, 0.10), (0.36, 0.06), (0.38, 0.12), (0.41, 0.06), (0.45, 0.03)],
]
IBABI_B_SLOW = [
    [(0.0, 0.15), (0.02, 0.18), (0.04, 0.12), (0.06, 0.08), (0.08, 0.06)],
    [(0.0, 0.10), (0.03, 0.10), (0.06, 0.05)],
    [(0.12, 0.15), (0.13, 0.25), (0.14, 0.22), (0.15, 0.10)],
    [(0.39, 0.12), (0.40, 0.20), (0.41, 0.28), (0.42, 0.18), (0.43, 0.25), (0.44, 0.12), (0.46, 0.06)],
]
IBABI_A_FAST = [
    [(0.08, 0.68), (0.12, 0.66), (0.16, 0.58), (0.19, 0.50), (0.20, 0.48), (0.22, 0.58), (0.25, 0.72),
     (0.28, 0.72), (0.30, 0.68), (0.32, 0.58), (0.35, 0.56), (0.38, 0.55), (0.40, 0.48), (0.41, 0.42),
     (0.42, 0.48)],
    [(0.08, 0.66), (0.12, 0.64), (0.16, 0.55), (0.19, 0.48), (0.21, 0.52), (0.24, 0.66), (0.27, 0.70),
     (0.30, 0.64), (0.33, 0.54), (0.36, 0.52), (0.39, 0.48), (0.41, 0.45)],
]
IBABI_A_SLOW = [
    [(0.0, 0.60), (0.04, 0.60), (0.08, 0.60), (0.12, 0.60), (0.15, 0.52), (0.18, 0.48)],
    [(0.41, 0.45), (0.43, 0.52), (0.46, 0.57), (0.50, 0.57)],
]

# phonetic transcription under each panel
DOTS = "· · · ·"
AGIGA_SEGS = ["/", DOTS, "a", "g", "i", DOTS, "/"]
IGAGI_SEGS = ["/", DOTS, "i", "g", "a", DOTS, "/"]
ABIBA_SEGS = ["/", DOTS, "a", "b", "i", DOTS, "/"]
IBABI_SEGS = ["/", DOTS, "i", "b", "a", DOTS, "/"]

# ---------- layout (pixels of the 1139x1406 canvas) ----------
PANELS = [
    dict(title="/agiga/", fast=AGIGA_FAST, slow=AGIGA_SLOW, bf=AGIGA_B_FAST, bs=AGIGA_B_SLOW,
         af=AGIGA_A_FAST, as_=AGIGA_A_SLOW, segs=AGIGA_SEGS,
         seg_x=[0.059, 0.098, 0.154, 0.198, 0.232, 0.302, 0.343],
         x0=57, x1=547, top=33, zero=470, mid=540, bot=616, title_y=20, ylab_x=24,
         row_y=640, bar_y=643, sec_y=672, time=False, dash_below=2.6,
         flab=[("f", 4.13), ("e", 3.10), ("d", 1.30), ("c", 0.57)], blab=0.42, alab=0.84,
         notes=[("SLOW", 0.405, 1.98), ("FAST", 0.405, 0.95)],
         arrows=[((0.397, 2.12), (0.397, 2.37)), ((0.397, 1.12), (0.397, 1.38)),
                 ((0.397, 0.80), (0.397, 0.62))]),
    dict(title="/igagi/", fast=IGAGI_FAST, slow=IGAGI_SLOW, bf=IGAGI_B_FAST, bs=IGAGI_B_SLOW,
         af=IGAGI_A_FAST, as_=IGAGI_A_SLOW, segs=IGAGI_SEGS,
         seg_x=[0.064, 0.108, 0.159, 0.202, 0.236, 0.308, 0.350],
         x0=644, x1=1134, top=35, zero=472, mid=543, bot=617, title_y=20, ylab_x=610,
         row_y=640, bar_y=647, sec_y=672, time=True, dash_below=1.5,
         flab=[("f", 4.31), ("e", 3.45), ("d", 1.78), ("c", 0.69)], blab=0.47, alab=0.86,
         notes=[("FAST", 0.111, 1.21), ("SLOW", 0.325, 0.97)],
         arrows=[((0.109, 1.36), (0.109, 1.88)), ((0.109, 1.06), (0.109, 0.62)),
                 ((0.320, 1.10), (0.320, 1.34)), ((0.320, 0.84), (0.320, 0.70))]),
    dict(title="/abiba/", fast=ABIBA_FAST, slow=ABIBA_SLOW, bf=ABIBA_B_FAST, bs=ABIBA_B_SLOW,
         af=ABIBA_A_FAST, as_=ABIBA_A_SLOW, segs=ABIBA_SEGS,
         seg_x=[0.047, 0.096, 0.139, 0.199, 0.255, 0.298, 0.347],
         x0=56, x1=547, top=743, zero=1187, mid=1259, bot=1333, title_y=729, ylab_x=24,
         row_y=1357, bar_y=1360, sec_y=1390, time=False, dash_below=1.35,
         flab=[("f", 3.82), ("e", 3.09), ("d", 1.69), ("c", 0.34)], blab=0.45, alab=0.86,
         notes=[("SLOW", 0.43, 1.79), ("FAST", 0.323, 0.83)],
         arrows=[((0.414, 1.70), (0.396, 1.61)), ((0.315, 0.98), (0.315, 1.26))]),
    dict(title="/ibabi/", fast=IBABI_FAST, slow=IBABI_SLOW, bf=IBABI_B_FAST, bs=IBABI_B_SLOW,
         af=IBABI_A_FAST, as_=IBABI_A_SLOW, segs=IBABI_SEGS,
         seg_x=[0.0625, 0.107, 0.157, 0.202, 0.236, 0.312, 0.350],
         x0=639, x1=1130, top=752, zero=1195, mid=1265, bot=1342, title_y=742, ylab_x=604,
         row_y=1363, bar_y=1368, sec_y=1397, time=False, dash_below=0.9,
         flab=[("f", 4.39), ("e", 3.43), ("d", 1.59), ("c", 0.70)], blab=0.45, alab=0.87,
         notes=[("FAST", 0.245, 0.90), ("SLOW", 0.373, 0.89)],
         arrows=[((0.230, 1.04), (0.214, 1.17)), ((0.221, 0.79), (0.221, 0.55)),
                 ((0.365, 1.04), (0.365, 1.27)), ((0.365, 0.79), (0.365, 0.57))]),
]


def fy(y):
    return 1 - y / H


def add_box(fig, x0, x1, ytop, ybot):
    ax = fig.add_axes([x0 / W, fy(ybot), (x1 - x0) / W, (ybot - ytop) / H])
    for s in ax.spines.values():
        s.set_linewidth(1.3)
        s.set_color(INK)
    ax.set_xlim(0, 0.5)
    ax.xaxis.set_minor_locator(NullLocator())
    return ax


def draw(ax, traces, lw):
    for tr in traces:
        ax.plot([p[0] for p in tr], [p[1] for p in tr], color=INK, lw=lw,
                solid_capstyle="round", solid_joinstyle="round")


def panel(fig, p):
    # main frequency axes
    ax = add_box(fig, p["x0"], p["x1"], p["top"], p["zero"])
    ax.set_ylim(0, 4.5)
    ax.yaxis.set_major_locator(FixedLocator([0, 1, 2, 3, 4]))
    ax.yaxis.set_minor_locator(MultipleLocator(0.1))
    ax.tick_params(axis="y", which="major", direction="in", length=10, width=1.1,
                   left=True, right=True, labelsize=15, pad=2, colors=INK)
    ax.tick_params(axis="y", which="minor", direction="in", length=3.5, width=0.9,
                   left=True, right=True)
    ax.xaxis.set_major_locator(FixedLocator([0.1, 0.3, 0.4]))
    ax.tick_params(axis="x", which="major", direction="inout", length=16, width=1.1,
                   labelbottom=False)
    draw(ax, p["slow"], 0.8)
    draw(ax, p["fast"], 3.2)
    ax.plot([0.2, 0.2], [p["dash_below"], 4.5], color=INK, lw=1.0)
    ax.plot([0.2, 0.2], [0, p["dash_below"]], color=INK, lw=1.0, dashes=(9, 2))
    for lab, yv in p["flab"]:
        ax.text(0.012, yv, lab, fontsize=15, ha="left", va="center", color=INK)
    for txt, tx, ty in p["notes"]:
        ax.text(tx, ty, txt, fontsize=14, ha="center", va="center", color=INK)
    for tail, tip in p["arrows"]:
        ax.annotate("", xy=tip, xytext=tail,
                    arrowprops=dict(arrowstyle="-|>", color=INK, lw=1.3,
                                    mutation_scale=11, shrinkA=0, shrinkB=0))

    # b panel
    axb = add_box(fig, p["x0"], p["x1"], p["zero"], p["mid"])
    axb.set_ylim(0, 1)
    axb.set_yticks([])
    axb.xaxis.set_major_locator(FixedLocator([0.1, 0.3, 0.4]))
    axb.tick_params(axis="x", direction="inout", length=10, width=1.1, labelbottom=False)
    draw(axb, p["bs"], 0.8)
    draw(axb, p["bf"], 4.0)
    axb.axvline(0.2, color=INK, lw=1.0)
    axb.text(0.008, p["blab"], "b", fontsize=15, ha="left", va="center", color=INK)

    # a panel
    axa = add_box(fig, p["x0"], p["x1"], p["mid"], p["bot"])
    axa.set_ylim(0, 1)
    axa.set_yticks([])
    axa.xaxis.set_major_locator(FixedLocator([0.1, 0.3]))
    axa.tick_params(axis="x", direction="out", length=7, width=1.1, labelbottom=False)
    draw(axa, p["as_"], 0.8)
    draw(axa, p["af"], 4.6)
    axa.axvline(0.2, color=INK, lw=1.0)
    axa.text(0.008, p["alab"], "a", fontsize=15, ha="left", va="center", color=INK)

    # frame text
    fig.text(p["x0"] / W, fy(p["title_y"]), p["title"], fontsize=14, ha="left", va="center",
             color=INK)
    fig.text(p["ylab_x"] / W, fy((p["top"] + p["zero"]) / 2), "FREQUENCY (kHz)",
             fontsize=15, rotation=90, ha="center", va="center", color=INK)

    trans = mtransforms.blended_transform_factory(axa.transData, fig.transFigure)
    for s, xs in zip(p["segs"], p["seg_x"]):
        dots = s == DOTS
        axa.text(xs, fy(p["row_y"]), s, transform=trans, fontsize=11 if dots else 15,
                 ha="center", va="center", color=INK, fontweight="bold" if dots else "normal")
    yb = fy(p["bar_y"])
    cap = 7 / H
    for xs, ys in (([0.4, 0.5], [yb, yb]), ([0.4, 0.4], [yb - cap, yb + cap]),
                   ([0.5, 0.5], [yb - cap, yb + cap])):
        fig.add_artist(Line2D(xs, ys, transform=trans, color=INK, lw=1.6))
    axa.text(0.504, fy(p["sec_y"]), "0. 10(sec)", transform=trans, fontsize=11,
             family="DejaVu Sans Mono", fontweight="bold", ha="right", va="center", color=INK)
    if p["time"]:
        axa.text(0.386, fy(p["sec_y"]), "TIME", transform=trans, fontsize=15,
                 ha="right", va="center", color=INK)


def main():
    fig = plt.figure(figsize=(W / DPI, H / DPI), dpi=DPI)
    fig.patch.set_facecolor("white")
    for p in PANELS:
        panel(fig, p)
    fig.savefig("out.png", dpi=DPI, facecolor="white")
    plt.close(fig)


if __name__ == "__main__":
    main()
